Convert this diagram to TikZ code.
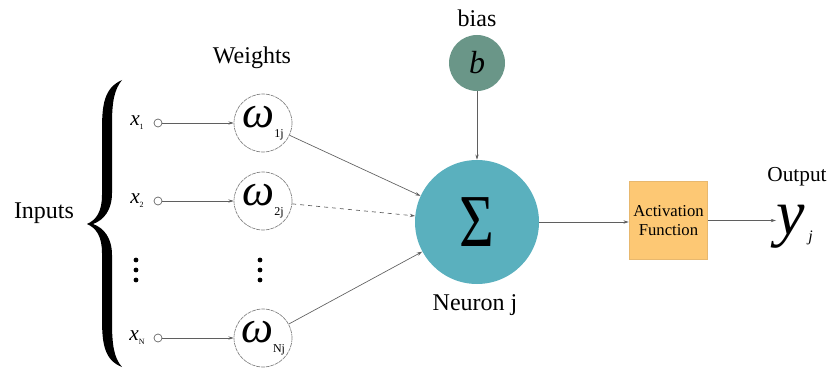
\documentclass[tikz,border=0pt]{standalone}
\usepackage{fontspec}
\setmainfont{Liberation Serif}
\usetikzlibrary{arrows.meta}
\definecolor{sigmacol}{RGB}{90,176,190}
\definecolor{biascol}{RGB}{106,150,136}
\definecolor{boxcol}{RGB}{253,200,116}
\definecolor{boxedge}{RGB}{232,184,110}
\definecolor{linecol}{RGB}{95,95,95}
\newcommand{\wsub}[1]{\hspace{0pt}\raisebox{-7pt}{\fontsize{9}{9}\selectfont\upshape #1}}
\newcommand{\xsub}[1]{\raisebox{-3pt}{\fontsize{6}{6}\selectfont\upshape #1}}
\begin{document}
\begin{tikzpicture}[x=0.75pt,y=-0.75pt,
  wcirc/.style={circle,draw=gray,line width=0.5pt,minimum size=43.5pt,inner sep=0pt,dash pattern=on 3pt off 0.6pt},
  incirc/.style={circle,draw=linecol,line width=0.5pt,minimum size=6pt,inner sep=0pt},
  conn/.style={draw=linecol,line width=0.5pt,-{Stealth[length=4pt,width=2.5pt]}},
  lab/.style={inner sep=0pt,font=\fontsize{18}{20}\selectfont},
  xlab/.style={inner sep=0pt,font=\fontsize{16}{16}\selectfont\itshape},
  dotc/.style={circle,fill=black,inner sep=0pt,minimum size=3.6pt},
  omega/.style={font=\fontsize{34}{34}\selectfont\itshape}]
\useasboundingbox (0,0) rectangle (830,374);
% brace
\fill (122,80) .. controls (104,88) and (102,105) .. (102,130) -- (102,195)
  .. controls (102,212) and (96,220) .. (87,224)
  .. controls (96,228) and (102,236) .. (102,253) -- (102,318)
  .. controls (102,343) and (104,360) .. (122,367)
  .. controls (114,358) and (112,345) .. (112,322) -- (112,255)
  .. controls (112,238) and (104,228) .. (93,224)
  .. controls (104,220) and (112,210) .. (112,193) -- (112,125)
  .. controls (112,102) and (114,90) .. (122,80) -- cycle;
\node[lab] (inputs) at (44,213) {Inputs};
\node[lab] (weights) at (252,58) {Weights};
% inputs
\node[xlab] (x1) at (137,123) {x\xsub{1}};
\node[xlab] (x2) at (137,201) {x\xsub{2}};
\node[xlab] (xN) at (137,338) {x\xsub{N}};
\node[incirc] (i1) at (158,123) {};
\node[incirc] (i2) at (158,201) {};
\node[incirc] (iN) at (158,338) {};
% weights
\node[wcirc,omega] (w1) at (263,123) {ω\wsub{1j}};
\node[wcirc,omega] (w2) at (263,201) {ω\wsub{2j}};
\node[wcirc,omega] (wN) at (263,338) {ω\wsub{Nj}};
% dots
\node[dotc] (d1) at (136,260) {};
\node[dotc] (d2) at (136,270) {};
\node[dotc] (d3) at (136,280) {};
\node[dotc] (e1) at (260,260) {};
\node[dotc] (e2) at (260,270) {};
\node[dotc] (e3) at (260,280) {};
% neuron
\node[circle,fill=sigmacol,minimum size=93pt,inner sep=0pt,font=\fontsize{56}{56}\selectfont] (sig) at (477,222) {\scalebox{0.8}[1]{Σ}};
\node[circle,fill=biascol,minimum size=42pt,inner sep=0pt,font=\fontsize{24}{24}\selectfont\itshape] (bias) at (477,63) {b};
\node[lab] (biaslab) at (477,18) {bias};
\node[lab] (neuron) at (475,305) {Neuron j};
% activation
\node[rectangle,fill=boxcol,draw=boxedge,line width=0.6pt,minimum width=59pt,minimum height=59pt,inner sep=0pt,align=center,font=\fontsize{12.5}{14}\selectfont] (act) at (668.5,220.5) {Activation\\Function};
\node[inner sep=0pt,font=\fontsize{16}{18}\selectfont] (outlab) at (797,177) {Output};
\node[inner sep=0pt,anchor=base west,font=\fontsize{48}{48}\selectfont\itshape] (yout) at (776,234) {y};
\node[inner sep=0pt,anchor=base west,font=\fontsize{12}{12}\selectfont\itshape] (jsub) at (808,241) {j};
% connectors
\draw[conn] (i1) -- (w1);
\draw[conn] (i2) -- (w2);
\draw[conn] (iN) -- (wN);
\draw[conn] (w1) -- (sig);
\draw[conn,dashed] (w2) -- (sig);
\draw[conn] (wN) -- (sig);
\draw[conn] (bias) -- (sig);
\draw[conn] (sig) -- (sig -| act.west);
\draw[conn] (act) -- (act -| yout.west);
\end{tikzpicture}
\end{document}
